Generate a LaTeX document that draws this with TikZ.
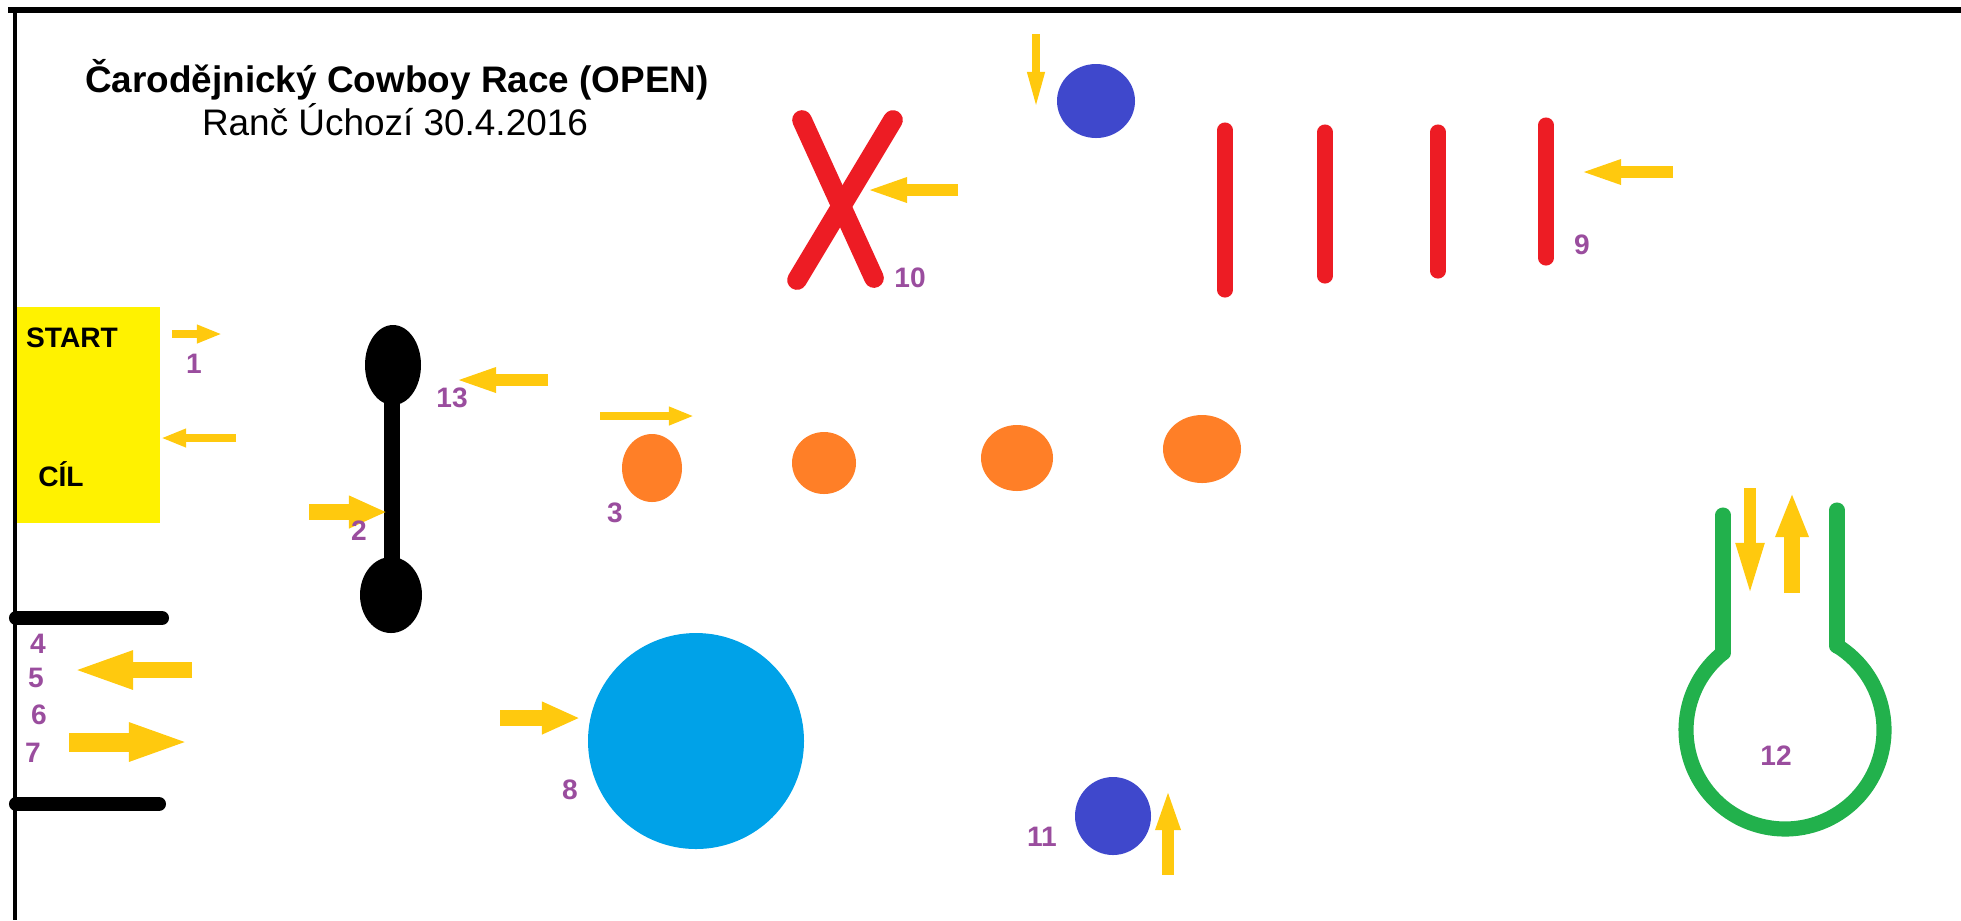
\documentclass[tikz,border=0pt]{standalone}
\usepackage{fontspec}
\setmainfont{Liberation Sans}
\usetikzlibrary{arrows.meta,positioning,shapes.geometric}
\definecolor{zluta}{HTML}{FFC90E}
\definecolor{startcol}{HTML}{FFF200}
\definecolor{cervena}{HTML}{ED1C24}
\definecolor{oranzova}{HTML}{FF7F27}
\definecolor{modra}{HTML}{3F48CC}
\definecolor{tyrkys}{HTML}{00A2E8}
\definecolor{zelena}{HTML}{22B14C}
\definecolor{fialova}{HTML}{9A4D9E}

\begin{document}
\begin{tikzpicture}[x=0.01cm, y=0.01cm,
  cis/.style={font=\bfseries\fontsize{8}{9}\selectfont, text=fialova, inner sep=0pt},
  txt/.style={anchor=base, inner sep=0pt},
  sipS/.style={draw=zluta, line width=2.4pt, -{Triangle[length=0.25cm,width=0.17cm]}},
  sipM/.style={draw=zluta, line width=3.5pt, -{Triangle[length=0.42cm,width=0.22cm]}},
  sipL/.style={draw=zluta, line width=4.6pt, -{Triangle[length=0.38cm,width=0.30cm]}},
  sipXL/.style={draw=zluta, line width=5.4pt, -{Triangle[length=0.62cm,width=0.34cm]}},
  tyc/.style={draw=cervena, line width=4.3pt, line cap=round},
  brana/.style={draw=black, line width=4pt, line cap=round}]
  \useasboundingbox (0,0) rectangle (1961,-920);

  % start / cil
  \fill[startcol] (16,-307) rectangle (160,-523);
  \node[txt, font=\bfseries\fontsize{8}{9}\selectfont] (start) at (72,-347) {START};
  \node[txt, font=\bfseries\fontsize{8}{9}\selectfont] (cil) at (61,-486) {CÍL};

  % ohraniceni
  \draw[line width=1.7pt] (8,-10) -- (1961,-10);
  \draw[line width=1.4pt] (15,-10) -- (15,-920);

  % nadpis
  \node[txt, font=\bfseries\fontsize{10.5}{12}\selectfont] (nadpis) at (397,-92)
    {Čarodějnický Cowboy Race (OPEN)};
  \node[txt, font=\fontsize{10.5}{12}\selectfont] (misto) at (395,-135)
    {Ranč Úchozí 30.4.2016};

  % branka 4-7
  \draw[brana] (16,-618) -- (162,-618);
  \draw[brana] (16,-804) -- (159,-804);

  % cinka 2 / 13
  \fill (393,-365) ellipse [x radius=28, y radius=40];
  \fill (391,-595) ellipse [x radius=31, y radius=38];
  \draw[line width=4.5pt] (392,-365) -- (392,-595);

  % slalom 3
  \foreach \x/\y/\rx/\ry in {652/468/30/34, 824/463/32/31, 1017/458/36/33, 1202/449/39/34}
    \fill[oranzova] (\x,-\y) ellipse [x radius=\rx, y radius=\ry];

  % kruh 8, barely 10 a 11
  \fill[tyrkys] (696,-741) circle [radius=108];
  \fill[modra] (1096,-101) ellipse [x radius=39, y radius=37];
  \fill[modra] (1113,-816) ellipse [x radius=38, y radius=39];

  % krizek 10
  \draw[tyc, line width=5.6pt] (802,-120) -- (874,-278);
  \draw[tyc, line width=5.6pt] (893,-120) -- (797,-280);

  % tyce 9
  \foreach \x/\a/\b in {1225/130/290, 1325/132/276, 1438/132/271, 1546/125/258}
    \draw[tyc] (\x,-\a) -- (\x,-\b);

  % otocka 12
  \draw[zelena, line width=4.3pt, line cap=round] (1723,-515) -- (1723,-653);
  \draw[zelena, line width=4.3pt, line cap=round] (1837,-510) -- (1837,-646);
  \draw[zelena, line width=4.3pt] (1785,-730) ++(128.8:99)
    arc[start angle=128.8, end angle=418.2, radius=99];

  % sipky
  \draw[sipS] (172,-334) -- (222,-334);
  \draw[sipS] (236,-438) -- (161,-438);
  \draw[sipL] (309,-512) -- (387,-512);
  \draw[sipM] (548,-380) -- (454,-380);
  \draw[sipS] (600,-416) -- (694,-416);
  \draw[sipXL, line width=4.6pt] (192,-670) -- (71,-670);
  \draw[sipXL] (69,-742) -- (191,-742);
  \draw[sipL] (500,-718) -- (580,-718);
  \draw[sipM, line width=3.2pt] (958,-190) -- (865,-190);
  \draw[sipS, -{Triangle[length=0.4cm,width=0.15cm]}] (1036,-34) -- (1036,-112);
  \draw[sipM] (1673,-172) -- (1579,-172);
  \draw[sipM] (1168,-875) -- (1168,-788);
  \draw[sipM, -{Triangle[length=0.55cm,width=0.25cm]}] (1750,-488) -- (1750,-598);
  \draw[sipL, -{Triangle[length=0.45cm,width=0.30cm]}] (1792,-593) -- (1792,-492);

  % cisla
  \node[cis] (c1) at (194,-364) {1};
  \node[cis] (c2) at (359,-531) {2};
  \node[cis] (c3) at (615,-513) {3};
  \node[cis] (c4) at (38,-644) {4};
  \node[cis] (c5) at (36,-678) {5};
  \node[cis] (c6) at (39,-715) {6};
  \node[cis] (c7) at (33,-753) {7};
  \node[cis] (c8) at (570,-790) {8};
  \node[cis] (c9) at (1582,-245) {9};
  \node[cis] (c10) at (910,-278) {10};
  \node[cis] (c11) at (1042,-837) {11};
  \node[cis] (c12) at (1776,-756) {12};
  \node[cis] (c13) at (452,-398) {13};
\end{tikzpicture}
\end{document}
